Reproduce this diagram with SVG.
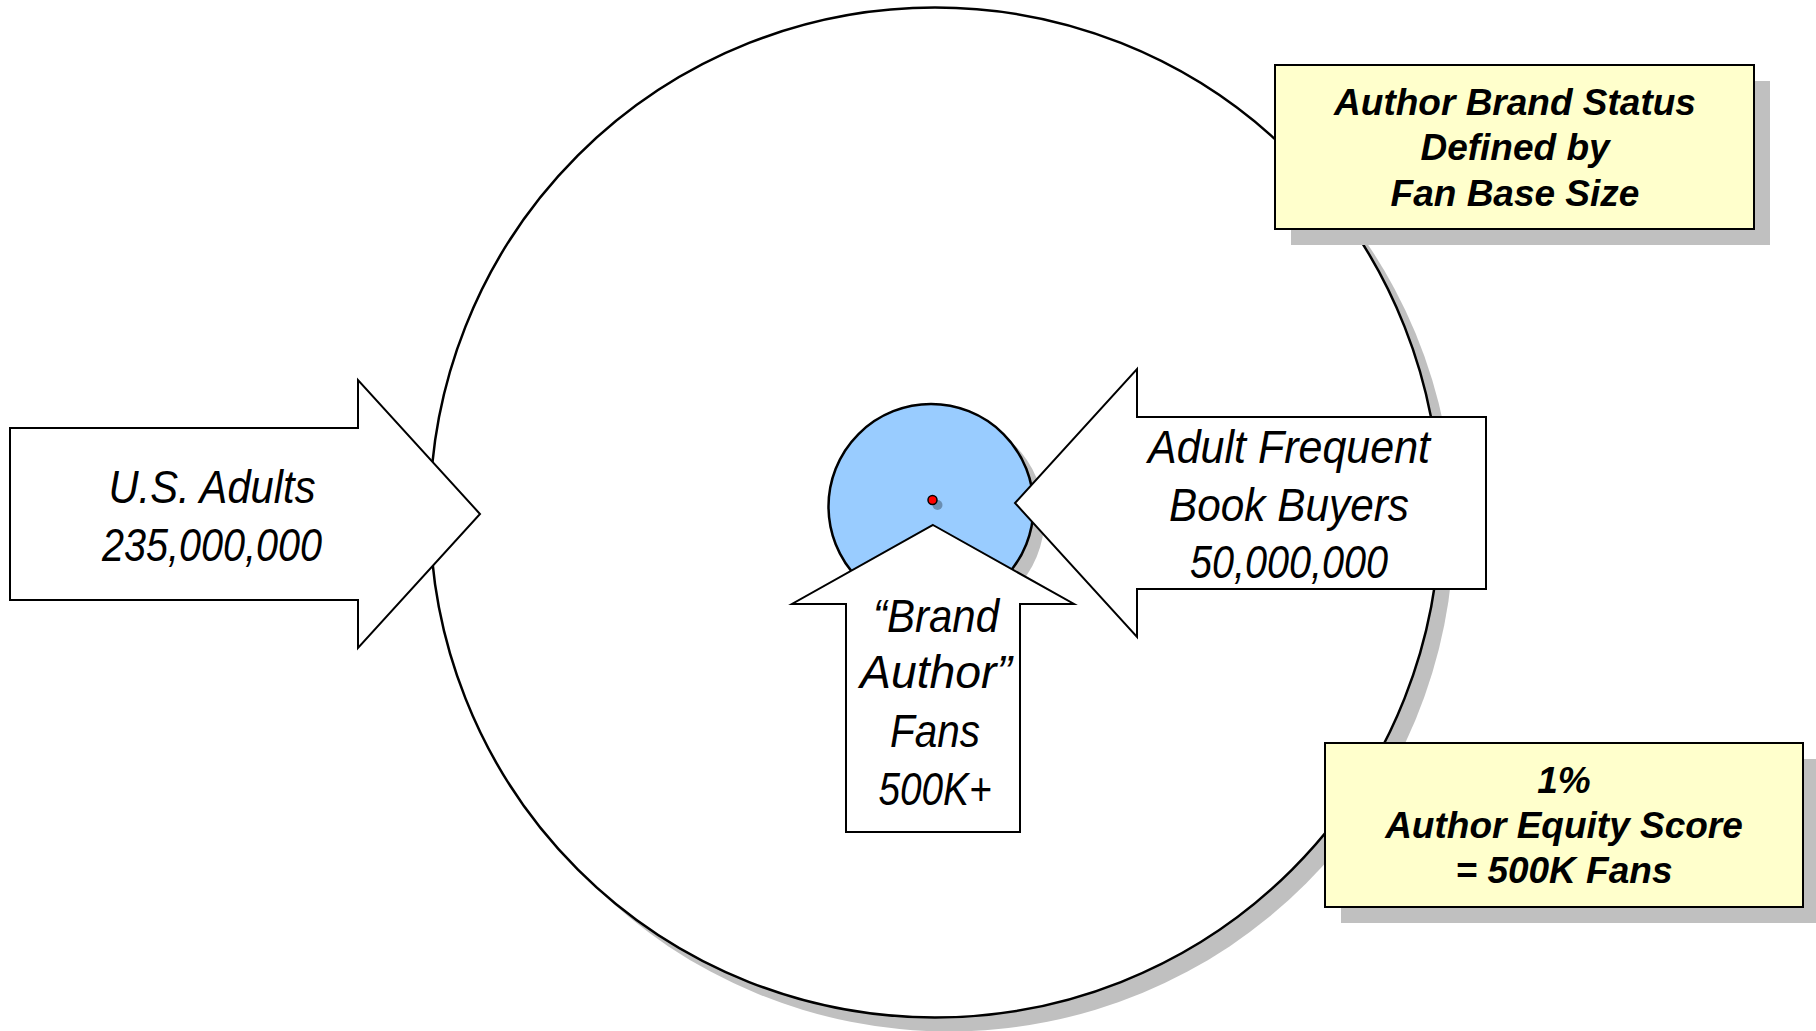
<svg xmlns="http://www.w3.org/2000/svg" width="1816" height="1031" viewBox="0 0 1816 1031">
  <style>
    .shadow { fill: #C0C0C0; stroke: none; }
    .outline { stroke: #000; stroke-width: 2.5; }
    .arrow { fill: #FFFFFF; stroke: #000; stroke-width: 2; stroke-linejoin: miter; }
    .note { fill: #FFFFCC; stroke: #000; stroke-width: 2; }
    .big { font-family: "Liberation Sans Narrow", "Arial Narrow", "Liberation Sans", Arial, sans-serif; font-style: italic; font-size: 46px; fill: #000; text-anchor: middle; }
    .bold { font-family: "Liberation Sans", Arial, sans-serif; font-style: italic; font-weight: bold; font-size: 37px; fill: #000; text-anchor: middle; }
  </style>
  <rect width="1816" height="1031" fill="#FFFFFF"/>

  <!-- market circle: all U.S. adults -->
  <g id="market">
    <circle class="shadow" cx="949" cy="526.5" r="505"/>
    <circle class="outline" cx="935" cy="512.5" r="505" fill="#FFFFFF"/>
  </g>

  <!-- fan base core with centre point -->
  <g id="fan-core">
    <circle class="shadow" cx="942" cy="517.5" r="102.5"/>
    <circle class="outline" cx="931" cy="506.5" r="102.5" fill="#99CCFF" stroke-width="2"/>
    <circle cx="937.5" cy="505" r="5" fill="#000" fill-opacity="0.3"/>
    <circle cx="932.5" cy="500" r="4.5" fill="#FF0000" stroke="#000" stroke-width="1.5"/>
  </g>

  <g id="connectors">
    <!-- U.S. Adults arrow -->
    <g id="us-adults">
      <polygon class="arrow" points="10,428 358,428 358,380 480,514 358,648 358,600 10,600"/>
      <text class="big" x="212" y="503" textLength="207" lengthAdjust="spacingAndGlyphs">U.S. Adults</text>
      <text class="big" x="212" y="561" textLength="220" lengthAdjust="spacingAndGlyphs">235,000,000</text>
    </g>

    <!-- Frequent book buyers arrow -->
    <g id="book-buyers">
      <polygon class="arrow" points="1486,417 1137,417 1137,369 1015,503 1137,637 1137,589 1486,589"/>
      <text class="big" x="1289" y="463" textLength="282" lengthAdjust="spacingAndGlyphs">Adult Frequent</text>
      <text class="big" x="1289" y="521" textLength="240" lengthAdjust="spacingAndGlyphs">Book Buyers</text>
      <text class="big" x="1289" y="578" textLength="198" lengthAdjust="spacingAndGlyphs">50,000,000</text>
    </g>

    <!-- Brand author fans arrow -->
    <g id="brand-fans">
      <polygon class="arrow" points="933,525 1074,604 1020,604 1020,832 846,832 846,604 792,604"/>
      <text class="big" x="936" y="632" textLength="126" lengthAdjust="spacingAndGlyphs">“Brand</text>
      <text class="big" x="936" y="688" textLength="152" lengthAdjust="spacingAndGlyphs">Author”</text>
      <text class="big" x="935" y="747" textLength="90" lengthAdjust="spacingAndGlyphs">Fans</text>
      <text class="big" x="935" y="805" textLength="113" lengthAdjust="spacingAndGlyphs">500K+</text>
    </g>
  </g>

  <!-- callout: brand status -->
  <g id="brand-status">
    <rect class="shadow" x="1291" y="81" width="479" height="164"/>
    <rect class="note" x="1275" y="65" width="479" height="164"/>
    <text class="bold" x="1515" y="115">Author Brand Status</text>
    <text class="bold" x="1515" y="160">Defined by</text>
    <text class="bold" x="1515" y="206">Fan Base Size</text>
  </g>

  <!-- callout: equity score -->
  <g id="equity-score">
    <rect class="shadow" x="1341" y="759" width="478" height="164"/>
    <rect class="note" x="1325" y="743" width="478" height="164"/>
    <text class="bold" x="1564" y="793">1%</text>
    <text class="bold" x="1564" y="838">Author Equity Score</text>
    <text class="bold" x="1564" y="883">= 500K Fans</text>
  </g>
</svg>
